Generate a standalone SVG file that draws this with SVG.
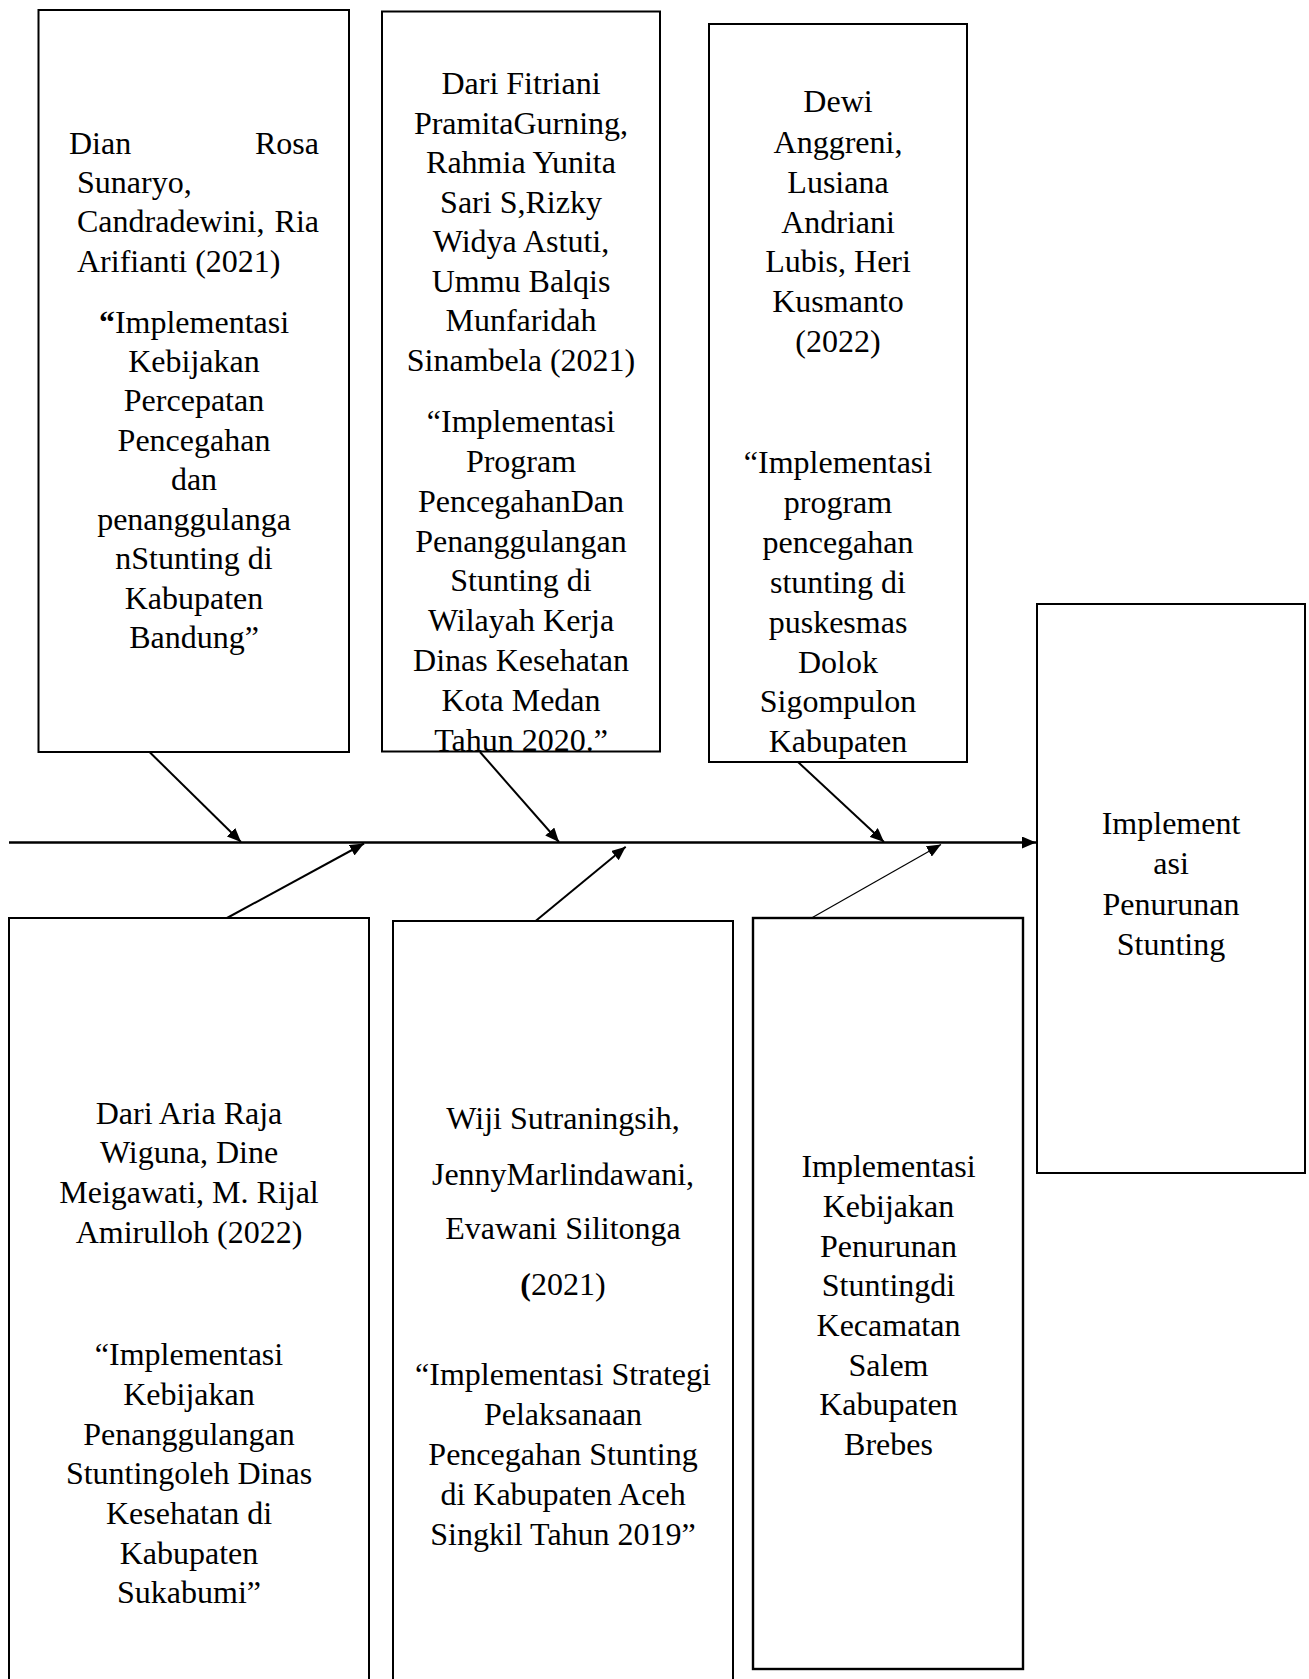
<svg xmlns="http://www.w3.org/2000/svg" width="1309" height="1679" viewBox="0 0 1309 1679">
<style>
.box{fill:#fff;stroke:#000;stroke-width:2}
.t{font-family:"Liberation Serif","Times New Roman",serif;font-size:32px;fill:#000}
.c{text-anchor:middle}
.e{text-anchor:end}
.ln{stroke:#000;stroke-width:2;fill:none}
</style>
<defs>
<marker id="ah" markerUnits="userSpaceOnUse" markerWidth="15" markerHeight="12" refX="14" refY="6" orient="auto">
<path d="M0,0 L14,6 L0,12 z" fill="#000"/>
</marker>
</defs>
<g id="connectors">
<line class="ln" x1="9" y1="842.5" x2="1036" y2="842.5" style="stroke-width:2.6" marker-end="url(#ah)"/>
<line class="ln" x1="149.5" y1="752" x2="241" y2="842" marker-end="url(#ah)"/>
<line class="ln" x1="480" y1="752" x2="559" y2="842" marker-end="url(#ah)"/>
<line class="ln" x1="798" y1="762" x2="884" y2="842" marker-end="url(#ah)"/>
<line class="ln" x1="227" y1="918" x2="364" y2="843.5" marker-end="url(#ah)"/>
<line class="ln" x1="535.6" y1="921" x2="625.7" y2="846.7" marker-end="url(#ah)"/>
<line class="ln" x1="808" y1="920" x2="941" y2="844.5" style="stroke-width:1.2" marker-end="url(#ah)"/>
</g>
<g id="node-top1">
<rect class="box" x="38.5" y="10" width="310.5" height="742"/>
<text class="t" x="69" y="154">Dian</text>
<text class="t e" x="319" y="154">Rosa</text>
<text class="t" x="77" y="193">Sunaryo,</text>
<text class="t" x="77" y="232">Candradewini,</text>
<text class="t e" x="319" y="232">Ria</text>
<text class="t" x="77" y="271.5">Arifianti (2021)</text>
<text class="t c" x="194" y="333"><tspan font-weight="bold">“</tspan>Implementasi</text>
<text class="t c" x="194" y="372">Kebijakan</text>
<text class="t c" x="194" y="411">Percepatan</text>
<text class="t c" x="194" y="450.5">Pencegahan</text>
<text class="t c" x="194" y="490">dan</text>
<text class="t c" x="194" y="529.5">penanggulanga</text>
<text class="t c" x="194" y="569">nStunting di</text>
<text class="t c" x="194" y="608.5">Kabupaten</text>
<text class="t c" x="194" y="648">Bandung”</text>
</g>
<g id="node-top2">
<rect class="box" x="382" y="11.5" width="278" height="740"/>
<text class="t c" x="521" y="94">Dari Fitriani</text>
<text class="t c" x="521" y="133.5">PramitaGurning,</text>
<text class="t c" x="521" y="173">Rahmia Yunita</text>
<text class="t c" x="521" y="212.5">Sari S,Rizky</text>
<text class="t c" x="521" y="252">Widya Astuti,</text>
<text class="t c" x="521" y="291.5">Ummu Balqis</text>
<text class="t c" x="521" y="331">Munfaridah</text>
<text class="t c" x="521" y="370.5">Sinambela (2021)</text>
<text class="t c" x="521" y="432">“Implementasi</text>
<text class="t c" x="521" y="472">Program</text>
<text class="t c" x="521" y="511.5">PencegahanDan</text>
<text class="t c" x="521" y="551.5">Penanggulangan</text>
<text class="t c" x="521" y="591">Stunting di</text>
<text class="t c" x="521" y="631">Wilayah Kerja</text>
<text class="t c" x="521" y="671">Dinas Kesehatan</text>
<text class="t c" x="521" y="710.5">Kota Medan</text>
<text class="t c" x="521" y="750.5">Tahun 2020.”</text>
</g>
<g id="node-top3">
<rect class="box" x="709" y="24" width="258" height="738"/>
<text class="t c" x="838" y="112">Dewi</text>
<text class="t c" x="838" y="152.5">Anggreni,</text>
<text class="t c" x="838" y="192.5">Lusiana</text>
<text class="t c" x="838" y="232.5">Andriani</text>
<text class="t c" x="838" y="272">Lubis, Heri</text>
<text class="t c" x="838" y="312">Kusmanto</text>
<text class="t c" x="838" y="351.5">(2022)</text>
<text class="t c" x="838" y="473">“Implementasi</text>
<text class="t c" x="838" y="513">program</text>
<text class="t c" x="838" y="553">pencegahan</text>
<text class="t c" x="838" y="593">stunting di</text>
<text class="t c" x="838" y="632.5">puskesmas</text>
<text class="t c" x="838" y="672.5">Dolok</text>
<text class="t c" x="838" y="712">Sigompulon</text>
<text class="t c" x="838" y="752">Kabupaten</text>
</g>
<g id="node-result">
<rect class="box" x="1037" y="604" width="268" height="569"/>
<text class="t c" x="1171" y="834">Implement</text>
<text class="t c" x="1171" y="874">asi</text>
<text class="t c" x="1171" y="914.5">Penurunan</text>
<text class="t c" x="1171" y="954.5">Stunting</text>
</g>
<g id="node-bottom1">
<rect class="box" x="9" y="918" width="360" height="790"/>
<text class="t c" x="189" y="1123.5">Dari Aria Raja</text>
<text class="t c" x="189" y="1163">Wiguna, Dine</text>
<text class="t c" x="189" y="1203">Meigawati, M. Rijal</text>
<text class="t c" x="189" y="1242.5">Amirulloh (2022)</text>
<text class="t c" x="189" y="1364.5">“Implementasi</text>
<text class="t c" x="189" y="1404.5">Kebijakan</text>
<text class="t c" x="189" y="1444.5">Penanggulangan</text>
<text class="t c" x="189" y="1484">Stuntingoleh Dinas</text>
<text class="t c" x="189" y="1524">Kesehatan di</text>
<text class="t c" x="189" y="1563.5">Kabupaten</text>
<text class="t c" x="189" y="1603">Sukabumi”</text>
</g>
<g id="node-bottom2">
<rect class="box" x="393" y="921" width="340" height="790"/>
<text class="t c" x="563" y="1129">Wiji Sutraningsih,</text>
<text class="t c" x="563" y="1184.5">JennyMarlindawani,</text>
<text class="t c" x="563" y="1239">Evawani Silitonga</text>
<text class="t c" x="563" y="1295"><tspan font-weight="bold">(</tspan>2021)</text>
<text class="t c" x="563" y="1385">“Implementasi Strategi</text>
<text class="t c" x="563" y="1425">Pelaksanaan</text>
<text class="t c" x="563" y="1465">Pencegahan Stunting</text>
<text class="t c" x="563" y="1505">di Kabupaten Aceh</text>
<text class="t c" x="563" y="1544.5">Singkil Tahun 2019”</text>
</g>
<g id="node-bottom3">
<rect class="box" x="753" y="918" width="270" height="751" style="stroke-width:2.4"/>
<text class="t c" x="888.5" y="1177">Implementasi</text>
<text class="t c" x="888.5" y="1217">Kebijakan</text>
<text class="t c" x="888.5" y="1256.5">Penurunan</text>
<text class="t c" x="888.5" y="1296">Stuntingdi</text>
<text class="t c" x="888.5" y="1336">Kecamatan</text>
<text class="t c" x="888.5" y="1375.5">Salem</text>
<text class="t c" x="888.5" y="1415">Kabupaten</text>
<text class="t c" x="888.5" y="1454.5">Brebes</text>
</g>
</svg>
